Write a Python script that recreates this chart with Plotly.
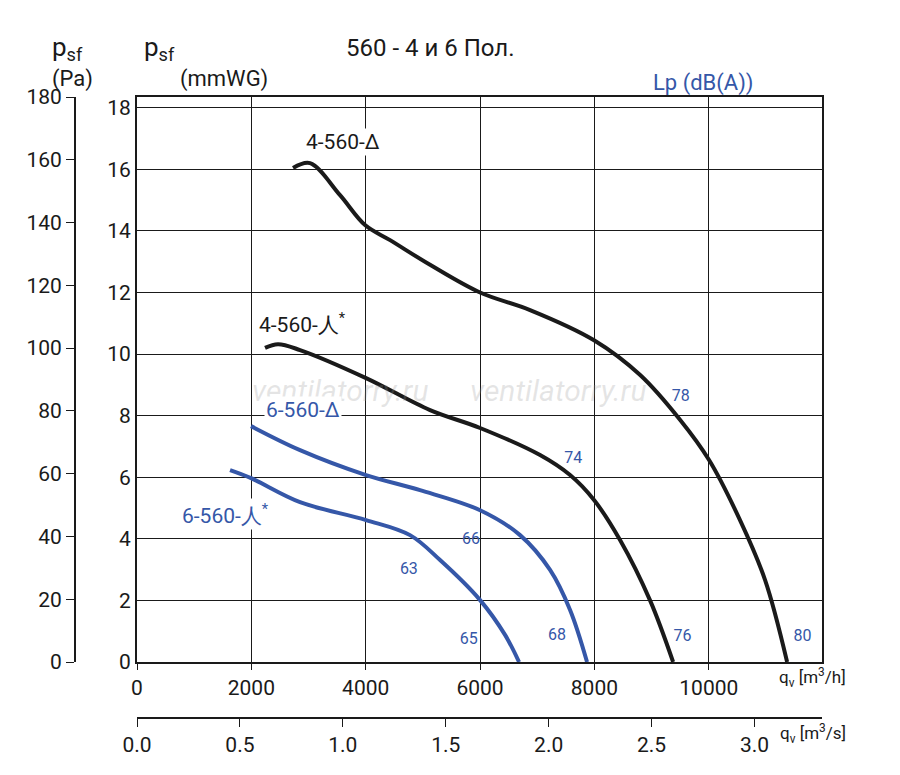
import plotly.graph_objects as go

# flow in m3/h, pressure in mmWG
d4_x = [2729, 3026, 3551, 3988, 4426, 5125, 6000, 6874, 7993, 8800, 9500, 10005, 10548, 10985, 11370]
d4_y = [16.04, 16.2, 15.16, 14.19, 13.7, 12.9, 12.0, 11.43, 10.45, 9.32, 7.86, 6.56, 4.6, 2.66, 0]
y4_x = [2239, 2466, 2851, 4006, 5125, 6000, 7049, 7574, 7993, 8448, 8973, 9376]
y4_y = [10.2, 10.32, 10.13, 9.22, 8.18, 7.6, 6.72, 6.07, 5.26, 3.96, 2.0, 0]
d6_x = [1994, 2851, 4006, 4950, 6000, 6699, 7224, 7574, 7871]
d6_y = [7.66, 6.88, 6.07, 5.58, 4.93, 4.12, 2.99, 1.69, 0]
y6_x = [1627, 1994, 2851, 4006, 4775, 5300, 6000, 6437, 6682]
y6_y = [6.23, 5.97, 5.19, 4.61, 4.12, 3.31, 2.01, 0.88, 0]

# sound level labels (x m3/h, y mmWG, text)
lp_x = [9510, 7630, 5840, 4755, 5800, 7345, 9540, 11640]
lp_y = [8.6, 6.6, 3.95, 3.0, 0.7, 0.85, 0.8, 0.8]
lp_txt = ["78", "74", "66", "63", "65", "68", "76", "80"]

flow_ticks = [0, 2000, 4000, 6000, 8000, 10000]

BLACK = "#1a1a1a"
BLUE = "#3557a8"
FONT = "Roboto"
OFF = 8  # page body margin

fig = go.Figure()
for xs, ys, col in [(d4_x, d4_y, BLACK), (y4_x, y4_y, BLACK), (d6_x, d6_y, BLUE), (y6_x, y6_y, BLUE)]:
    fig.add_trace(go.Scatter(x=xs, y=ys, mode="lines", line=dict(color=col, width=4, shape="spline"),
                             hoverinfo="skip", showlegend=False))
fig.add_trace(go.Scatter(x=lp_x, y=lp_y, mode="text", text=lp_txt,
                         textfont=dict(color=BLUE, size=16, family=FONT), showlegend=False))
# helper traces so the extra axes are drawn
fig.add_trace(go.Scatter(x=[0], y=[0], xaxis="x2", yaxis="y", mode="markers", opacity=0, showlegend=False))
fig.add_trace(go.Scatter(x=[0], y=[0], xaxis="x", yaxis="y2", mode="markers", opacity=0, showlegend=False))

L, R, T, B = 75 - OFF, 78 + OFF, 97 - OFF, 57 + OFF
PW, PH = 900 - L - R, 775 - T - B
xdom = [(137 - OFF - L) / PW, 1]
ydom = [(775 - B - (662 - OFF)) / PH, 1]
tick_font = dict(size=21, color=BLACK, family=FONT)
fig.update_layout(
    width=900, height=775,
    margin=dict(l=L, r=R, t=T, b=B, autoexpand=False),
    plot_bgcolor="white", paper_bgcolor="white",
    font=dict(family=FONT, color=BLACK),
    xaxis=dict(domain=xdom, range=[0, 11980], tickvals=flow_ticks, tickformat="d", showgrid=True,
               gridcolor=BLACK, gridwidth=1, showline=True, linecolor=BLACK, linewidth=2, mirror=True,
               ticks="outside", ticklen=6, tickcolor=BLACK, tickfont=tick_font, zeroline=False,
               anchor="y", automargin=False),
    yaxis=dict(domain=ydom, range=[0, 180 / 9.81], tickvals=list(range(0, 19, 2)), showgrid=True,
               gridcolor=BLACK, showline=True, linecolor=BLACK, linewidth=2, mirror=True, ticks="",
               tickfont=tick_font, zeroline=False, anchor="x", automargin=False),
    yaxis2=dict(overlaying="y", anchor="free", position=0, range=[0, 180], dtick=20, showgrid=False,
                showline=True, linecolor=BLACK, linewidth=2, ticks="outside", ticklen=8, tickcolor=BLACK,
                tickfont=tick_font, side="left", zeroline=False, automargin=False),
    xaxis2=dict(overlaying="x", anchor="free", position=0, range=[0, 11980 / 3600], dtick=0.5,
                tickformat=".1f", showgrid=False, showline=True, linecolor=BLACK, linewidth=2,
                ticks="outside", ticklen=8, tickcolor=BLACK, tickfont=tick_font, zeroline=False,
                side="bottom", automargin=False),
)

def note(x, y, text, size=22, color=BLACK, **kw):
    x, y = x - OFF, y - OFF
    fig.add_annotation(x=(x - L) / PW, y=(775 - B - y) / PH, xref="paper", yref="paper", text=text,
                       showarrow=False, font=dict(size=size, color=color, family=FONT), **kw)

# watermark first so curve labels sit on top of it
for wx in [250, 648]:
    note(wx, 390, "<i>ventilatorry.ru</i>", size=30, color="rgba(150,150,150,0.25)")

note(50, 30, "p<sub>sf</sub>", size=26)
note(50, 64, "(Pa)")
note(142, 30, "p<sub>sf</sub>", size=26)
note(178, 64, "(mmWG)")
note(430, 32, "560 - 4 и 6 Пол.", size=24)
note(756, 68, "Lp (dB(A))", color=BLUE)
note(848, 692, "q<sub>v</sub> [m<sup>3</sup>/h]", size=17)
note(848, 748, "q<sub>v</sub> [m<sup>3</sup>/s]", size=17)

def curve_label(x, y, text, color):
    fig.add_annotation(x=x, y=y, xref="x", yref="y", text=text, showarrow=False, bgcolor="white",
                       font=dict(size=21, color=color, family=FONT))

curve_label(3600, 16.9, "4-560-Δ", BLACK)
curve_label(2900, 11.0, "4-560-人<sup>*</sup>", BLACK)
curve_label(2900, 8.2, "6-560-Δ", BLUE)
curve_label(1550, 4.8, "6-560-人<sup>*</sup>", BLUE)

fig.write_html("out.html")
